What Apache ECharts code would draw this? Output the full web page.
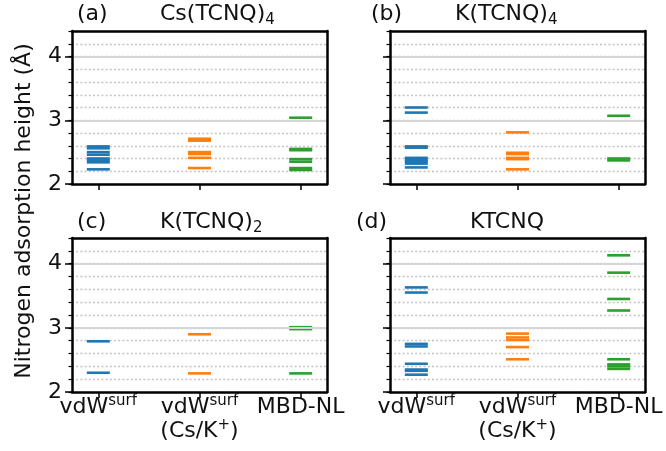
<!DOCTYPE html>
<html>
<head>
<meta charset="utf-8">
<script src="https://cdn.jsdelivr.net/npm/echarts@6/dist/echarts.min.js"></script>
<style>html,body{margin:0;padding:0;background:#fff}#c{width:666px;height:451px}</style>
</head>
<body>
<div id="c"></div>
<script>
// ---- data ----
const methods = ['vdWsurf', 'vdWsurf (Cs/K+)', 'MBD-NL'];
const methodColors = ['#1f77b4', '#ff7f0e', '#2ca02c'];
const panelLetters = ['(a)', '(b)', '(c)', '(d)'];
const panelNames = ['Cs(TCNQ)', 'K(TCNQ)', 'K(TCNQ)', 'KTCNQ'];
const panelSubs = ['4', '4', '2', ''];
const yTickValues = [2, 3, 4];
const yMajorLines = [3, 4];
const xTickValues = [0, 1, 2];
const xTickLabels = ['{n|vdW}{sup|surf}', '{n|vdW}{sup|surf}\n{n|(Cs/K}{sup|+}{n|)}', '{n|MBD-NL}'];

// (a) Cs(TCNQ)4
const a_vdw   = [2.59, 2.56, 2.50, 2.46, 2.40, 2.37, 2.34, 2.23];
const a_vdwCs = [2.71, 2.68, 2.50, 2.47, 2.41, 2.25];
const a_mbd   = [3.04, 2.55, 2.53, 2.39, 2.35, 2.25, 2.22];
// (b) K(TCNQ)4
const b_vdw   = [3.20, 3.12, 2.59, 2.57, 2.41, 2.38, 2.35, 2.32, 2.26];
const b_vdwCs = [2.81, 2.49, 2.47, 2.41, 2.39, 2.23];
const b_mbd   = [3.07, 2.40, 2.37];
// (c) K(TCNQ)2
const c_vdw   = [2.79, 2.30];
const c_vdwCs = [2.90, 2.29];
const c_mbd   = [3.01, 2.98, 2.29];
// (d) KTCNQ
const d_vdw   = [3.63, 3.55, 2.75, 2.71, 2.44, 2.35, 2.33, 2.27];
const d_vdwCs = [2.91, 2.85, 2.81, 2.70, 2.51];
const d_mbd   = [4.13, 3.86, 3.45, 3.27, 2.51, 2.43, 2.40, 2.36];

const panelData = [
  [a_vdw, a_vdwCs, a_mbd],
  [b_vdw, b_vdwCs, b_mbd],
  [c_vdw, c_vdwCs, c_mbd],
  [d_vdw, d_vdwCs, d_mbd]
];

// ---- layout ----
const FONT = 'DejaVu Sans';
const grids = [
  {left: 72, top: 31, width: 255, height: 153},
  {left: 390, top: 31, width: 255, height: 153},
  {left: 72, top: 238, width: 255, height: 154},
  {left: 390, top: 238, width: 255, height: 154}
];
const XMIN = -0.26, XMAX = 2.26, YMIN = 2, YMAX = 4.4;

const xAxes = [], yAxes = [], series = [], titles = [];

grids.forEach((g, i) => {
  const bottomRow = i >= 2, leftCol = i % 2 === 0;
  xAxes.push({
    type: 'value', gridIndex: i, position: 'bottom', min: XMIN, max: XMAX, z: 5,
    axisLine: {show: true, onZero: false, lineStyle: {color: '#000', width: 2.5}},
    axisTick: {show: true, customValues: xTickValues, length: 6, lineStyle: {color: '#000', width: 1.5}},
    axisLabel: {show: bottomRow, customValues: xTickValues, margin: 3,
      formatter: v => xTickLabels[Math.round(v)],
      rich: {
        n: {fontFamily: FONT, fontSize: 22, fontWeight: 'normal', color: '#111', lineHeight: 24},
        sup: {fontFamily: FONT, fontSize: 15, fontWeight: 'normal', color: '#111', lineHeight: 24, padding: [0, 0, 12, 0]}
      }},
    splitLine: {show: false}
  });
  xAxes.push({
    type: 'value', gridIndex: i, position: 'top', min: XMIN, max: XMAX, z: 5,
    axisLine: {show: true, onZero: false, lineStyle: {color: '#000', width: 2.5}},
    axisTick: {show: false}, axisLabel: {show: false}, splitLine: {show: false}
  });
  yAxes.push({
    type: 'value', gridIndex: i, position: 'left', min: YMIN, max: YMAX, interval: 0.2, z: 0,
    axisLine: {show: false, onZero: false},
    axisTick: {show: true, length: 3.5, lineStyle: {color: '#000', width: 1.2}},
    axisLabel: {show: false},
    splitLine: {show: true, lineStyle: {color: '#c4c4c4', width: 1.3, type: [2, 2.2]}}
  });
  yAxes.push({
    type: 'value', gridIndex: i, position: 'left', min: YMIN, max: YMAX, z: 5,
    axisLine: {show: true, onZero: false, lineStyle: {color: '#000', width: 2.5}},
    axisTick: {show: true, customValues: yTickValues, length: 7, lineStyle: {color: '#000', width: 1.5}},
    axisLabel: {show: leftCol, customValues: yTickValues, margin: 10, fontFamily: FONT, fontSize: 22, color: '#111'},
    splitLine: {show: false}
  });
  yAxes.push({
    type: 'value', gridIndex: i, position: 'right', min: YMIN, max: YMAX, z: 5,
    axisLine: {show: true, onZero: false, lineStyle: {color: '#000', width: 2.5}},
    axisTick: {show: false}, axisLabel: {show: false}, splitLine: {show: false}
  });
  const xi = i * 2, yi = i * 3;
  series.push({
    type: 'line', xAxisIndex: xi, yAxisIndex: yi, data: [], z: 1, silent: true,
    markLine: {silent: true, symbol: 'none', label: {show: false},
      lineStyle: {color: '#d6d6d6', width: 2, type: 'solid'},
      data: yMajorLines.map(v => ({yAxis: v}))}
  });
  panelData[i].forEach((vals, m) => {
    series.push({
      type: 'scatter', xAxisIndex: xi, yAxisIndex: yi, z: 3, silent: true,
      symbol: 'rect', symbolSize: [23, 2.6],
      itemStyle: {color: methodColors[m], opacity: 1},
      data: vals.map(v => [m, v])
    });
  });
});

const titlePos = [
  {lx: 77, tx: 160, ty: 3},
  {lx: 371, tx: 455, ty: 3},
  {lx: 77, tx: 160, ty: 211},
  {lx: 356, tx: 470, ty: 211}
];
titlePos.forEach((p, i) => {
  titles.push({text: panelLetters[i], left: p.lx, top: p.ty, padding: 0,
    textStyle: {fontFamily: FONT, fontSize: 22, fontWeight: 'normal', color: '#111'}});
  const t = panelSubs[i] ? '{m|' + panelNames[i] + '}{s|' + panelSubs[i] + '}' : '{m|' + panelNames[i] + '}';
  titles.push({text: t, left: p.tx, top: p.ty - 2, padding: 0,
    textStyle: {fontWeight: 'normal', rich: {
      m: {fontFamily: FONT, fontSize: 22, fontWeight: 'normal', color: '#111', lineHeight: 26},
      s: {fontFamily: FONT, fontSize: 15, fontWeight: 'normal', color: '#111', lineHeight: 26, padding: [12, 0, 0, 0]}
    }}});
});

const chart = echarts.init(document.getElementById('c'), null, {renderer: 'canvas'});
chart.setOption({
  animation: false,
  backgroundColor: '#fff',
  title: titles,
  grid: grids.map(g => Object.assign({containLabel: false}, g)),
  xAxis: xAxes,
  yAxis: yAxes,
  series: series,
  graphic: [{
    type: 'text', x: 24, y: 211, rotation: Math.PI / 2,
    style: {text: 'Nitrogen adsorption height (Å)', fontFamily: FONT, fontSize: 22, fill: '#111',
      align: 'center', verticalAlign: 'middle'}
  }]
});
</script>
</body>
</html>
